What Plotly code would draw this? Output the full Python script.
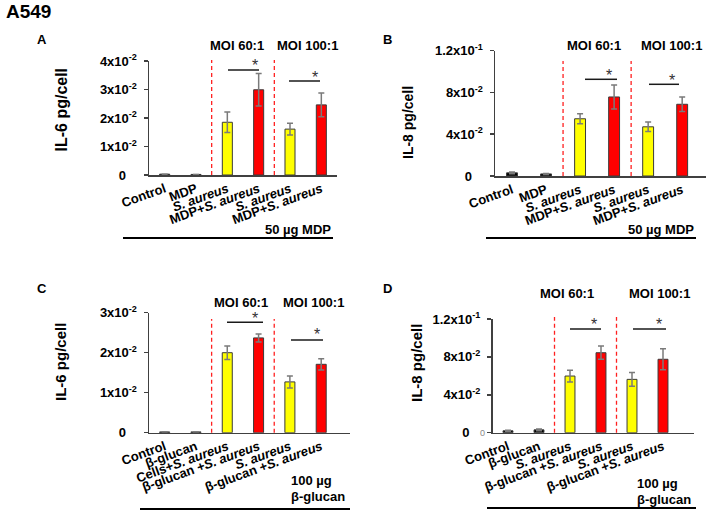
import plotly.graph_objects as go

W, H = 708, 517

# ---------------- data ----------------
x_pos = [0, 1, 2, 3, 4, 5]
bar_colors = ["#000000", "#000000", "#FFFF00", "#FF0000", "#FFFF00", "#FF0000"]

labels_mdp = ["Control", "MDP", "<i>S. aureus</i>", "MDP+<i>S. aureus</i>",
              "<i>S. aureus</i>", "MDP+<i>S. aureus</i>"]
labels_c = ["Control", "β-glucan", "Cells+<i>S. aureus</i>", "β-glucan +<i>S. aureus</i>",
            "<i>S. aureus</i>", "β-glucan +<i>S. aureus</i>"]
labels_d = ["Control", "β-glucan", "<i>S. aureus</i>", "β-glucan +<i>S. aureus</i>",
            "<i>S. aureus</i>", "β-glucan +<i>S. aureus</i>"]

A_vals = [0.0003, 0.0002, 0.0185, 0.0299, 0.0161, 0.0246]
A_err = [0.0, 0.0, 0.0036, 0.0057, 0.0021, 0.0042]
B_vals = [0.003, 0.002, 0.0548, 0.0757, 0.0471, 0.0687]
B_err = [0.0008, 0.0005, 0.0048, 0.0115, 0.0045, 0.0070]
C_vals = [0.0002, 0.0002, 0.0200, 0.0237, 0.0127, 0.0171]
C_err = [0.0, 0.0, 0.0017, 0.0010, 0.0015, 0.0014]
D_vals = [0.002, 0.003, 0.0598, 0.0844, 0.0563, 0.0775]
D_err = [0.0005, 0.0010, 0.0062, 0.0070, 0.0072, 0.0110]

tick_il6_vals = [0, 0.01, 0.02, 0.03, 0.04]
tick_il6_text = ["0&nbsp;&nbsp;&nbsp;", "1x10<sup>-2</sup>", "2x10<sup>-2</sup>",
                 "3x10<sup>-2</sup>", "4x10<sup>-2</sup>"]
tick_il8_vals = [0, 0.04, 0.08, 0.12]
tick_il8_text = ["0&nbsp;&nbsp;&nbsp;", "4x10<sup>-2</sup>", "8x10<sup>-2</sup>",
                 "1.2x10<sup>-1</sup>"]

# ---------------- layout helpers ----------------
def fx(p):
    return p / W


def fy(p):
    return 1 - p / H


FONT = "Liberation Sans, Arial, sans-serif"

panels = [
    dict(vals=A_vals, err=A_err, labels=labels_mdp, tv=tick_il6_vals[:5], tt=tick_il6_text[:5],
         ymax=0.04, xd=(149, 337), yd=(61, 175), xend=5.5),
    dict(vals=B_vals, err=B_err, labels=labels_mdp, tv=tick_il8_vals, tt=tick_il8_text,
         ymax=0.12, xd=(495, 706), yd=(50.7, 176), xend=5.7),
    dict(vals=C_vals, err=C_err, labels=labels_c, tv=tick_il6_vals[:4], tt=tick_il6_text[:4],
         ymax=0.03, xd=(149, 350), yd=(312.7, 432.7), xend=5.92),
    dict(vals=D_vals, err=D_err, labels=labels_d, tv=tick_il8_vals, tt=tick_il8_text,
         ymax=0.12, xd=(492.5, 694), yd=(319, 432.7), xend=6.0),
]

fig = go.Figure()
layout = dict(template="none", width=W, height=H, margin=dict(l=0, r=0, t=0, b=0, pad=0),
              paper_bgcolor="white", plot_bgcolor="rgba(0,0,0,0)",
              showlegend=False, bargap=0)

for i, p in enumerate(panels, start=1):
    sfx = "" if i == 1 else str(i)
    fig.add_trace(go.Bar(
        x=x_pos, y=p["vals"], width=0.32,
        marker=dict(color=bar_colors, line=dict(color="#3a3a3a", width=1)),
        error_y=dict(type="data", array=p["err"], color="#7a7a7a", thickness=1.5, width=3),
        xaxis="x" + sfx, yaxis="y" + sfx, hoverinfo="skip"))
    layout["xaxis" + sfx] = dict(
        domain=[fx(p["xd"][0]), fx(p["xd"][1])], anchor="y" + sfx, automargin=False,
        range=[-0.5, p["xend"]], tickvals=x_pos, ticktext=p["labels"],
        tickangle=-20, ticks="", showline=True, linecolor="#404040", linewidth=1.5,
        showgrid=False, zeroline=False,
        tickfont=dict(family=FONT, size=13, color="black", weight="bold"))
    layout["yaxis" + sfx] = dict(
        domain=[fy(p["yd"][1]), fy(p["yd"][0])], anchor="x" + sfx, automargin=False,
        range=[0, p["ymax"]], tickvals=p["tv"], ticktext=p["tt"],
        ticks="outside", ticklen=4, tickwidth=1.5, tickcolor="#404040",
        showline=True, linecolor="#404040", linewidth=1.5,
        showgrid=False, zeroline=False, ticklabelstandoff=4,
        tickfont=dict(family=FONT, size=13, color="black", weight="bold"))

shapes = []
annotations = []


def text(x, y, s, size=13, weight="bold", xanchor="center", yanchor="middle", angle=0, color="black"):
    annotations.append(dict(x=fx(x), y=fy(y), xref="paper", yref="paper", text=s,
                            showarrow=False, xanchor=xanchor, yanchor=yanchor, textangle=angle,
                            font=dict(family=FONT, size=size, color=color, weight=weight)))


def line_px(x0, x1, y, w=1.5, color="black"):
    shapes.append(dict(type="line", xref="paper", yref="paper", x0=fx(x0), x1=fx(x1),
                       y0=fy(y), y1=fy(y), line=dict(color=color, width=w)))


# dashed separators (in data x, paper y)
dash_tops = [60, 61, 319, 317]
for i, p in enumerate(panels, start=1):
    sfx = "" if i == 1 else str(i)
    for xv in (1.5, 3.5):
        shapes.append(dict(type="line", xref="x" + sfx, yref="paper", x0=xv, x1=xv,
                           y0=fy(p["yd"][1]), y1=fy(dash_tops[i - 1]),
                           line=dict(color="#FF2020", width=1.3, dash="4px,3px")))

# significance bars and stars
sig = [
    [(228, 259, 70, 255, 61), (289, 320, 81, 315, 73)],
    [(585, 617, 79.3, 609, 71.7), (649, 679, 84.3, 672, 76)],
    [(227, 263, 322.3, 255, 314), (291, 323, 340, 317, 330.7)],
    [(570, 601, 329, 594, 320), (633, 666, 329, 659, 320)],
]
for panel_sig in sig:
    for x0, x1, y, sx, sy in panel_sig:
        line_px(x0, x1, y, w=1.5, color="#1a1a1a")
        text(sx, sy + 4, "*", size=16, weight="normal", color="#333333")

# MOI labels
for x, y, s in [(237, 45, "MOI 60:1"), (307, 45, "MOI 100:1"),
                (594, 45, "MOI 60:1"), (671, 45, "MOI 100:1"),
                (241, 302, "MOI 60:1"), (313, 302, "MOI 100:1"),
                (567, 293, "MOI 60:1"), (659, 293, "MOI 100:1")]:
    text(x, y, s, size=13)

# group labels and underlines
text(298, 230, "50 µg MDP", size=13)
line_px(123, 333, 238, w=2)
text(661, 230, "50 µg MDP", size=13)
line_px(486, 696, 238, w=2)
text(289, 480, "100 µg", size=13, xanchor="left")
text(289, 496, "β-glucan", size=13, xanchor="left")
line_px(140, 350, 509, w=2)
text(635, 483, "100 µg", size=13, xanchor="left")
text(635, 499, "β-glucan", size=13, xanchor="left")
line_px(487, 696, 508, w=2)

# y titles
text(61.5, 110, "IL-6 pg/cell", size=16, angle=-90)
text(408, 123, "IL-8 pg/cell", size=14, angle=-90)
text(60, 362, "IL-6 pg/cell", size=15, angle=-90)
text(416, 363, "IL-8 pg/cell", size=15, angle=-90)

# panel letters and title
text(29, 11, "A549", size=19)
text(42, 39, "A", size=13)
text(388, 39, "B", size=13)
text(42, 288, "C", size=13)
text(387, 288, "D", size=13)

# stray grey zero in panel D
text(482, 433, "0", size=9, weight="normal", color="#888888")

layout["shapes"] = shapes
layout["annotations"] = annotations
fig.update_layout(**layout)
fig.write_html("out.html", config={"displayModeBar": False, "staticPlot": True},
               post_script="document.body.style.margin='0';document.body.style.overflow='hidden';")
